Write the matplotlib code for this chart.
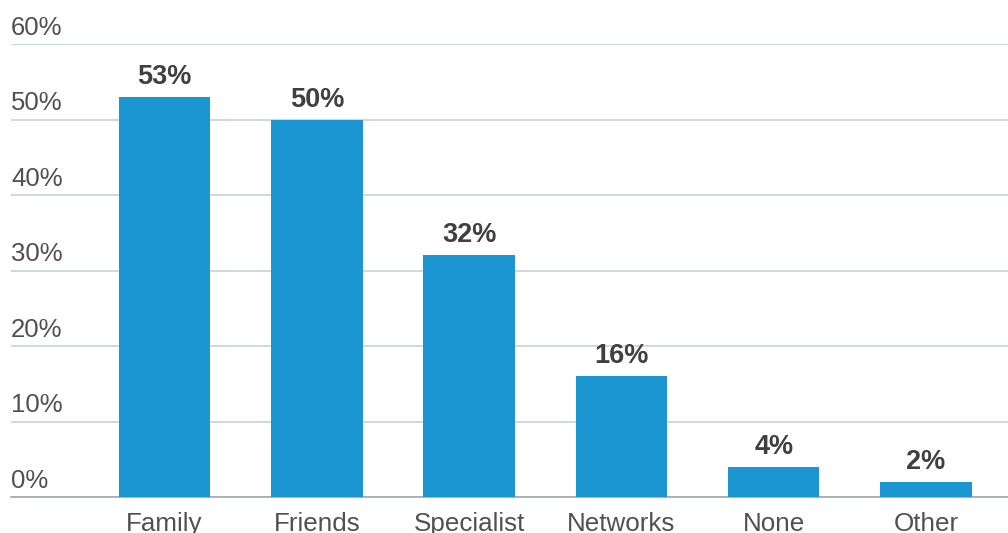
import matplotlib
matplotlib.use('Agg')
from matplotlib import pyplot as plt
from matplotlib import transforms

categories = ['Family', 'Friends', 'Specialist', 'Networks', 'None', 'Other']
values = [53, 50, 32, 16, 4, 2]
y_ticks = [0, 10, 20, 30, 40, 50, 60]
y_labels = ['0%', '10%', '20%', '30%', '40%', '50%', '60%']

plt.rcParams['font.family'] = ['Liberation Sans', 'DejaVu Sans']

fig = plt.figure(figsize=(10.08, 5.33), dpi=100)
ax = fig.add_axes([11 / 1008, 36 / 533, 997 / 1008, 453 / 533])

x = list(range(len(categories)))
bars = ax.bar(x, values, width=0.6, color='#1b96d1', zorder=3)

# Werte ueber den Balken
for xi, v in zip(x, values):
    ax.annotate('{}%'.format(v), (xi, v), xytext=(0, 5), textcoords='offset points',
                ha='center', va='bottom', fontsize=19.5, fontweight='bold', color='#404040')

ax.set_xlim(-1.008, 5.538)
ax.set_ylim(0, 60)
ax.set_xticks(x)
ax.set_xticklabels(categories, fontsize=18.7, color='#505050')
ax.set_yticks(y_ticks)
ax.set_yticklabels(y_labels, fontsize=18.5, color='#505050')
ax.tick_params(axis='both', length=0)
ax.tick_params(axis='x', pad=11)
ax.tick_params(axis='y', pad=0)

offset = transforms.ScaledTranslation(0, 3 / 72, fig.dpi_scale_trans)
for lab in ax.get_yticklabels():
    lab.set_horizontalalignment('left')
    lab.set_verticalalignment('bottom')
    lab.set_transform(lab.get_transform() + offset)

ax.grid(axis='y', color='#c9d2d2', linewidth=1.2, zorder=0)
for s in ['top', 'right', 'left']:
    ax.spines[s].set_visible(False)
ax.spines['bottom'].set_color('#a0a8a8')
ax.spines['bottom'].set_linewidth(1.2)

plt.savefig('out.png', dpi=100)
